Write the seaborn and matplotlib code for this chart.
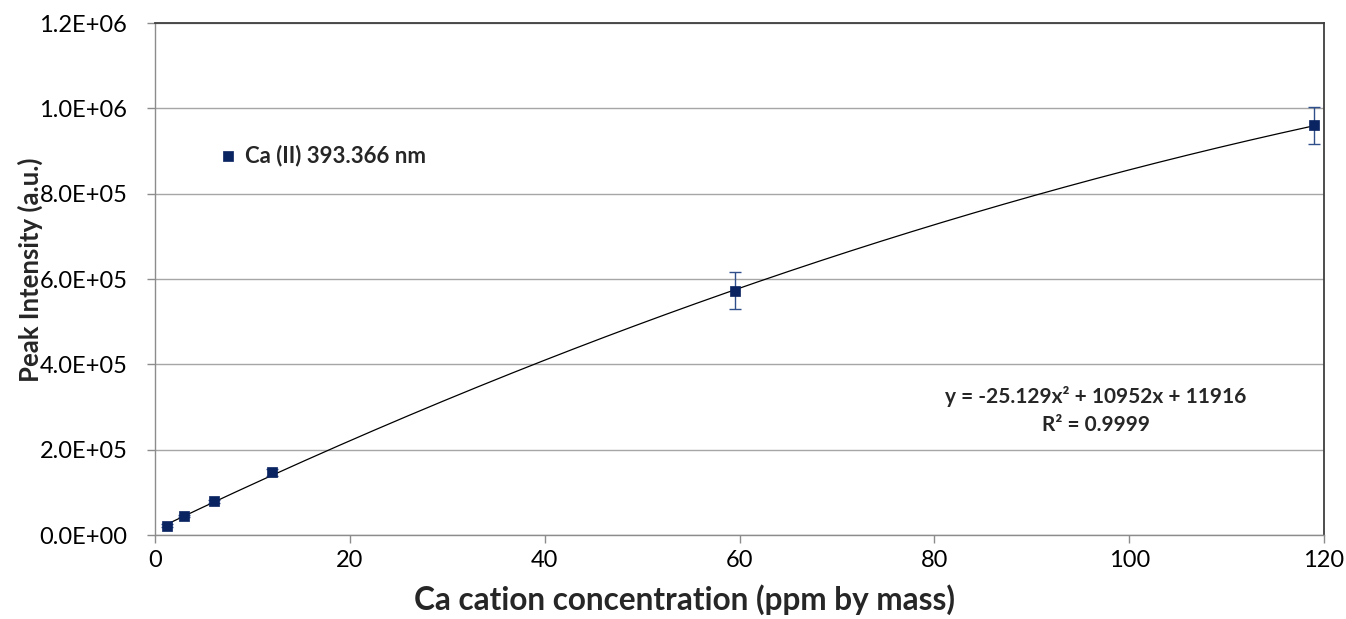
#!/usr/bin/env python3
"""
Calibration curve for Ca (II) 393.366 nm emission line.
"""

import matplotlib
matplotlib.use("Agg")
import matplotlib.pyplot as plt
import numpy as np
import pandas as pd
import seaborn as sns

conc_ppm = [1.2, 3.0, 6.0, 12.0, 59.5, 119.0]
peak_intensity = [22000, 45000, 79000, 147000, 573000, 960000]
intensity_err = [3000, 3000, 3000, 8000, 44000, 44000]

# quadratic trendline as printed on the chart
trend_coef = [-25.129, 10952, 11916]
trend_label = "y = -25.129x² + 10952x + 11916\nR² = 0.9999"
series_name = "Ca (II) 393.366 nm"

y_ticks = [0, 2e5, 4e5, 6e5, 8e5, 1e6, 1.2e6]
x_ticks = [0, 20, 40, 60, 80, 100, 120]

MARKER = "#0a2462"


def main() -> None:
    df = pd.DataFrame({"conc": conc_ppm, "intensity": peak_intensity, "err": intensity_err})

    xs = np.linspace(min(conc_ppm), max(conc_ppm), 300)
    trend = pd.DataFrame({"conc": xs, "fit": np.polyval(trend_coef, xs)})

    sns.set_theme(style="white")
    plt.rcParams["font.family"] = ["Lato", "DejaVu Sans"]

    fig = plt.figure(figsize=(13.46, 6.19), dpi=100)
    ax = fig.add_axes([0.1152, 0.1357, 0.9837 - 0.1152, 0.9628 - 0.1357])

    sns.lineplot(ax=ax, data=trend, x="conc", y="fit", color="black", linewidth=0.9, zorder=2)
    ax.errorbar(df["conc"], df["intensity"], yerr=df["err"], fmt="none",
                ecolor="#2f4f8a", elinewidth=1.0, capsize=4, capthick=1.0, zorder=3)
    sns.scatterplot(ax=ax, data=df, x="conc", y="intensity", marker="s", s=55,
                    color=MARKER, edgecolor=MARKER, linewidth=0.5, zorder=4,
                    label=series_name)

    ax.set_xlim(0, 120)
    ax.set_ylim(0, 1.2e6)
    ax.set_xticks(x_ticks)
    ax.set_yticks(y_ticks)
    ax.set_yticklabels([f"{v:.1E}" for v in y_ticks])
    ax.tick_params(axis="both", labelsize=17, colors="#8c8c8c", labelcolor="black",
                   direction="out", length=6, width=1, bottom=True, left=True)
    ax.tick_params(axis="y", pad=14)
    ax.tick_params(axis="x", pad=5)

    ax.grid(axis="y", color="#a6a6a6", linewidth=1)
    ax.set_axisbelow(True)
    for side in ("left", "bottom"):
        ax.spines[side].set_color("#8c8c8c")
        ax.spines[side].set_linewidth(1)
    for side in ("top", "right"):
        ax.spines[side].set_color("#3f3f3f")
        ax.spines[side].set_linewidth(1.3)

    ax.set_xlabel("Ca cation concentration (ppm by mass)", fontsize=22.7,
                  fontweight="bold", labelpad=9)
    ax.xaxis.label.set_x(0.453)
    ax.set_ylabel("Peak Intensity (a.u.)", fontsize=18.5, fontweight="bold", labelpad=-2.5)
    ax.yaxis.label.set_y(0.518)

    ax.legend(loc="center left", bbox_to_anchor=(0.038, 0.742), frameon=False,
              prop={"weight": "bold", "size": 16},
              handlelength=0.8, handletextpad=0.35, markerscale=1.0)

    ax.text(0.805, 0.244, trend_label, transform=ax.transAxes, ha="center",
            va="center", fontsize=15, fontweight="bold", linespacing=1.5)

    fig.savefig("out.png", dpi=100)


if __name__ == "__main__":
    main()
